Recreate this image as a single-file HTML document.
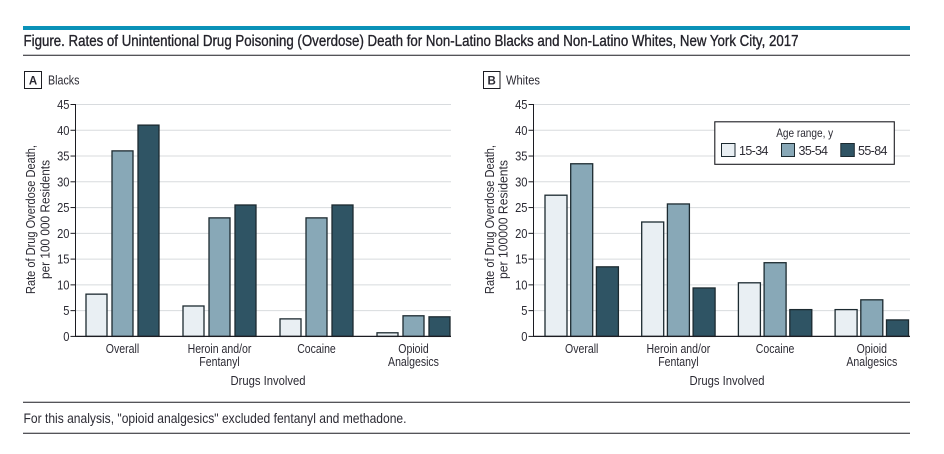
<!DOCTYPE html>
<html lang="en">
<head>
<meta charset="utf-8">
<title>Rates of Unintentional Drug Poisoning (Overdose) Death, New York City, 2017</title>
<style>
html,body{margin:0;padding:0;background:#fff;width:944px;height:454px;overflow:hidden}
svg{display:block}
text{font-family:"Liberation Sans",sans-serif;fill:#2b2a33}
</style>
</head>
<body>
<svg id="figure" width="944" height="454" viewBox="0 0 944 454" xmlns="http://www.w3.org/2000/svg">
  <rect x="23" y="26" width="887" height="4" fill="#0a92b8"/>
  <text x="23.5" y="46" font-size="15.5" textLength="775" lengthAdjust="spacingAndGlyphs" stroke="#24232b" stroke-width="0.35" style="fill:#24232b">Figure. Rates of Unintentional Drug Poisoning (Overdose) Death for Non-Latino Blacks and Non-Latino Whites, New York City, 2017</text>
  <line x1="23" x2="910" y1="55.3" y2="55.3" stroke="#1c1c22" stroke-width="1"/>

  <g id="panel-a">
    <rect x="24.5" y="71.5" width="17" height="17" fill="#fff" stroke="#1c1c22" stroke-width="1"/>
    <text x="33" y="84.5" font-size="11.5" font-weight="700" text-anchor="middle">A</text>
    <text x="48" y="84.5" font-size="13" textLength="31.5" lengthAdjust="spacingAndGlyphs">Blacks</text>
    <text transform="translate(35,219.5) rotate(-90)" font-size="12.5" text-anchor="middle" textLength="149" lengthAdjust="spacingAndGlyphs">Rate of Drug Overdose Death,</text>
    <text transform="translate(49.5,219.5) rotate(-90)" font-size="12.5" text-anchor="middle" textLength="119" lengthAdjust="spacingAndGlyphs">per 100 000 Residents</text>
    <text x="268" y="385" font-size="13" text-anchor="middle" textLength="75" lengthAdjust="spacingAndGlyphs">Drugs Involved</text>
  </g>

  <g id="panel-b">
    <rect x="483.5" y="71.5" width="16.5" height="17" fill="#fff" stroke="#1c1c22" stroke-width="1"/>
    <text x="491.7" y="84.5" font-size="11.5" font-weight="700" text-anchor="middle">B</text>
    <text x="506" y="84.5" font-size="13" textLength="34" lengthAdjust="spacingAndGlyphs">Whites</text>
    <text transform="translate(494,219.5) rotate(-90)" font-size="12.5" text-anchor="middle" textLength="149" lengthAdjust="spacingAndGlyphs">Rate of Drug Overdose Death,</text>
    <text transform="translate(507.5,219.5) rotate(-90)" font-size="12.5" text-anchor="middle" textLength="119" lengthAdjust="spacingAndGlyphs">per 100000 Residents</text>
    <text x="727" y="385" font-size="13" text-anchor="middle" textLength="75" lengthAdjust="spacingAndGlyphs">Drugs Involved</text>
  </g>

  <g id="legend">
    <rect x="714.8" y="121.8" width="179.5" height="42.5" fill="#fff" stroke="#1c1c22" stroke-width="1.1"/>
    <text x="804.7" y="137" font-size="12" text-anchor="middle" textLength="57" lengthAdjust="spacingAndGlyphs">Age range, y</text>
    <rect x="721.5" y="143.5" width="13.5" height="13" fill="#e9eff3" stroke="#1c2a30" stroke-width="1"/>
    <text x="739" y="155" font-size="12.5" textLength="29.5" lengthAdjust="spacing">15-34</text>
    <rect x="781.5" y="143.5" width="13" height="13" fill="#88a8b7" stroke="#1c2a30" stroke-width="1"/>
    <text x="798.5" y="155" font-size="12.5" textLength="29.5" lengthAdjust="spacing">35-54</text>
    <rect x="840.8" y="143.5" width="13.5" height="13" fill="#2f5464" stroke="#1c2a30" stroke-width="1"/>
    <text x="858" y="155" font-size="12.5" textLength="29.5" lengthAdjust="spacing">55-84</text>
  </g>

  <line x1="23" x2="910" y1="402.3" y2="402.3" stroke="#1c1c22" stroke-width="1"/>
  <text x="23.5" y="423" font-size="14" textLength="383" lengthAdjust="spacingAndGlyphs">For this analysis, "opioid analgesics" excluded fentanyl and methadone.</text>
  <line x1="23" x2="910" y1="433.3" y2="433.3" stroke="#1c1c22" stroke-width="1"/>
</svg>

<script>
var categories = [["Overall"], ["Heroin and/or", "Fentanyl"], ["Cocaine"], ["Opioid", "Analgesics"]];
var ageGroups = ["15-34", "35-54", "55-84"];
var tickValues = [0, 5, 10, 15, 20, 25, 30, 35, 40, 45];
var blacks1534 = [8.2, 5.9, 3.4, 0.7];
var blacks3554 = [36, 23, 23, 4];
var blacks5584 = [41, 25.5, 25.5, 3.8];
var whites1534 = [27.4, 22.2, 10.4, 5.2];
var whites3554 = [33.5, 25.7, 14.3, 7.1];
var whites5584 = [13.5, 9.4, 5.2, 3.2];

var SVGNS = "http://www.w3.org/2000/svg";
var barFills = ["#e9eff3", "#88a8b7", "#2f5464"];
var yZero = 336.4;
var yTop = 104.5;

function yScale(v) {
  return yZero - (v / tickValues[tickValues.length - 1]) * (yZero - yTop);
}

function make(tag, parent, attrs) {
  var el = document.createElementNS(SVGNS, tag);
  for (var k in attrs) el.setAttribute(k, attrs[k]);
  parent.appendChild(el);
  return el;
}

function squeeze(el, factor) {
  el.setAttribute("textLength", (el.getComputedTextLength() * factor).toFixed(1));
  el.setAttribute("lengthAdjust", "spacingAndGlyphs");
}

function drawPanel(root, prefix, layout, series) {
  var first = root.firstChild;
  var g = document.createElementNS(SVGNS, "g");
  root.insertBefore(g, first);
  
  

  tickValues.forEach(function (t) {
    var y = yScale(t);
    if (t !== 0) {
      var grid = make("line", g, { x1: layout.axisX, x2: layout.right, y1: y, y2: y, stroke: "#d8dbde", "stroke-width": 1 });
      
      
    }
    var tick = make("line", g, { x1: layout.axisX - 5, x2: layout.axisX, y1: y, y2: y, stroke: "#1c1c22", "stroke-width": 1 });
    
    
    var label = make("text", g, { x: layout.axisX - 6, y: y + 4.6, "font-size": 13, "text-anchor": "end" });
    label.textContent = String(t);
    
    
    squeeze(label, 0.86);
  });

  categories.forEach(function (lines, c) {
    var groupX = layout.firstX + c * layout.step;
    series.forEach(function (values, s) {
      var y = yScale(values[c]);
      var bar = make("rect", g, {
        x: groupX + s * layout.pitch, y: y,
        width: layout.barWidth, height: yZero - y,
        fill: barFills[s], stroke: "#1c2a30", "stroke-width": 1.3
      });
      
      
    });
    var center = groupX + layout.pitch + layout.barWidth / 2;
    lines.forEach(function (line, i) {
      var cat = make("text", g, { x: center, y: 353 + i * 13, "font-size": 13, "text-anchor": "middle" });
      cat.textContent = line;
      
      
      squeeze(cat, 0.81);
    });
  });

  var yAxis = make("line", g, { x1: layout.axisX, x2: layout.axisX, y1: yTop - 0.5, y2: yZero + 0.5, stroke: "#1c1c22", "stroke-width": 1 });
  
  
  var xAxis = make("line", g, { x1: layout.axisX, x2: layout.right, y1: yZero, y2: yZero, stroke: "#1c1c22", "stroke-width": 1.2 });
  
  
}

drawPanel(document.getElementById("panel-a"), "blacks",
  { axisX: 75.5, right: 451, firstX: 86, step: 97, pitch: 26, barWidth: 21 },
  [blacks1534, blacks3554, blacks5584]);
drawPanel(document.getElementById("panel-b"), "whites",
  { axisX: 533.5, right: 910, firstX: 545, step: 96.7, pitch: 25.7, barWidth: 22 },
  [whites1534, whites3554, whites5584]);
</script>
</body>
</html>
